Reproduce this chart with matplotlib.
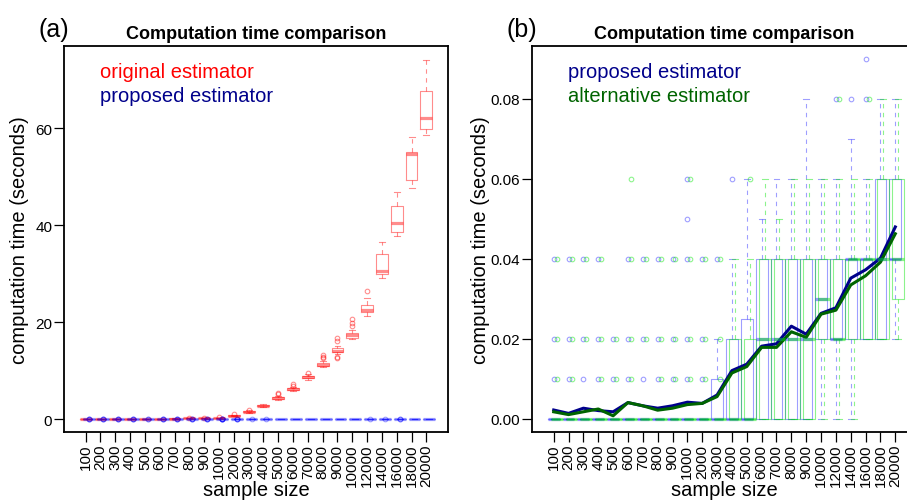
import numpy as np
import matplotlib.pyplot as plt

plt.rcParams['font.family'] = ['Liberation Sans', 'DejaVu Sans']

sample_sizes = ['100', '200', '300', '400', '500', '600', '700', '800', '900', '1000',
                '2000', '3000', '4000', '5000', '6000', '7000', '8000', '9000', '10000',
                '12000', '14000', '16000', '18000', '20000']

# (a) original estimator, seconds
orig_q1 = [0.0, 0.01, 0.02, 0.03, 0.05, 0.07, 0.09, 0.12, 0.15, 0.19, 0.66, 1.4, 2.6, 4.1,
           5.9, 8.4, 11.0, 13.8, 16.8, 22.1, 29.9, 38.5, 49.3, 59.8]
orig_med = [0.003, 0.01, 0.02, 0.04, 0.06, 0.08, 0.1, 0.13, 0.16, 0.2, 0.7, 1.5, 2.7, 4.3,
            6.1, 8.6, 11.2, 14.1, 17.3, 22.5, 30.6, 40.5, 54.6, 62.2]
orig_q3 = [0.01, 0.02, 0.03, 0.05, 0.07, 0.09, 0.11, 0.14, 0.17, 0.22, 0.76, 1.6, 2.8, 4.5,
           6.3, 8.9, 11.5, 14.6, 17.7, 23.5, 34.0, 44.0, 55.1, 67.7]
orig_lo = [0.0, 0.0, 0.01, 0.02, 0.04, 0.06, 0.08, 0.11, 0.14, 0.17, 0.6, 1.3, 2.5, 3.9,
           5.7, 8.1, 10.7, 13.5, 16.5, 21.2, 29.2, 37.7, 47.6, 58.6]
orig_hi = [0.01, 0.03, 0.04, 0.06, 0.08, 0.1, 0.13, 0.16, 0.19, 0.25, 0.85, 1.8, 3.0, 4.8,
           6.6, 9.3, 12.0, 15.1, 18.4, 24.9, 36.6, 46.9, 58.3, 74.1]
orig_fliers = [[], [], [], [], [], [], [], [0.22], [0.26], [0.35], [1.1], [1.9], [],
               [5.1, 5.4], [6.9, 7.3], [9.6], [12.5, 12.9, 13.3], [12.6, 12.9, 16.0, 16.7],
               [19.2, 19.9, 20.6], [26.5], [], [], [], []]

# proposed estimator, seconds
prop_q1 = [0, 0, 0, 0, 0, 0, 0, 0, 0, 0, 0, 0, 0, 0, 0, 0, 0, 0,
           0.02, 0.02, 0.02, 0.02, 0.02, 0.04]
prop_med = [0, 0, 0, 0, 0, 0, 0, 0, 0, 0, 0, 0, 0, 0, 0.02, 0.02, 0.02, 0.02,
            0.03, 0.02, 0.04, 0.04, 0.04, 0.04]
prop_q3 = [0, 0, 0, 0, 0, 0, 0, 0, 0, 0, 0, 0.01, 0.02, 0.025, 0.04, 0.04, 0.04, 0.04,
           0.04, 0.04, 0.04, 0.04, 0.06, 0.06]
prop_lo = [0, 0, 0, 0, 0, 0, 0, 0, 0, 0, 0, 0, 0, 0, 0, 0, 0, 0,
           0, 0, 0, 0.02, 0.02, 0.02]
prop_hi = [0, 0, 0, 0, 0, 0, 0, 0, 0, 0, 0, 0.02, 0.04, 0.06, 0.05, 0.06, 0.06, 0.08,
           0.06, 0.06, 0.07, 0.06, 0.08, 0.08]
prop_fliers = [[.01, .02, .04], [.01, .02, .04], [.01, .02, .04], [.01, .02, .04], [.01, .02],
               [.01, .02, .04], [.01, .02, .04], [.01, .02, .04], [.01, .02, .04],
               [.01, .02, .04, .05, .06], [.01, .02, .04], [.04], [.06], [], [], [], [], [],
               [], [.08], [.08], [.08, .09], [], []]
prop_mean = [0.00225, 0.0014, 0.0027, 0.0021, 0.0018, 0.0041, 0.0033, 0.0027, 0.0033, 0.0042,
             0.0039, 0.006, 0.0121, 0.0137, 0.0182, 0.0188, 0.0232, 0.0212, 0.0264, 0.0278,
             0.0352, 0.0373, 0.0402, 0.048]

# alternative estimator, seconds
alt_q1 = [0, 0, 0, 0, 0, 0, 0, 0, 0, 0, 0, 0, 0, 0, 0, 0, 0, 0,
          0.02, 0.02, 0.02, 0.02, 0.02, 0.03]
alt_med = [0, 0, 0, 0, 0, 0, 0, 0, 0, 0, 0, 0, 0, 0, 0.02, 0.02, 0.02, 0.02,
           0.03, 0.02, 0.04, 0.04, 0.04, 0.04]
alt_q3 = [0, 0, 0, 0, 0, 0, 0, 0, 0, 0, 0, 0, 0.02, 0.02, 0.04, 0.04, 0.04, 0.04,
          0.04, 0.04, 0.04, 0.04, 0.06, 0.06]
alt_lo = [0, 0, 0, 0, 0, 0, 0, 0, 0, 0, 0, 0, 0, 0, 0, 0, 0, 0,
          0, 0, 0, 0.02, 0.02, 0.02]
alt_hi = [0, 0, 0, 0, 0, 0, 0, 0, 0, 0, 0, 0, 0.04, 0.04, 0.06, 0.05, 0.06, 0.06,
          0.06, 0.06, 0.06, 0.06, 0.08, 0.08]
alt_fliers = [[.01, .02, .04], [.01, .02, .04], [.02, .04], [.01, .02, .04], [.01, .02],
              [.01, .02, .04, .06], [.02, .04], [.01, .02, .04], [.01, .02, .04],
              [.01, .02, .04, .06], [.01, .02, .04], [.01, .02, .04], [], [.06], [], [], [],
              [], [], [.08], [], [.08], [], []]
alt_mean = [0.0018, 0.0011, 0.0018, 0.0025, 0.0008, 0.0041, 0.0033, 0.0022, 0.0027, 0.0036,
            0.0039, 0.0056, 0.0115, 0.0131, 0.0179, 0.0179, 0.0218, 0.0204, 0.0262, 0.0272,
            0.0335, 0.0358, 0.0392, 0.0463]

RED = (1, 0, 0, 0.45)
BLUE = (0, 0, 1, 0.38)
GREEN = (0, 0.9, 0, 0.45)


def make_stats(q1, med, q3, lo, hi, fliers):
    return [dict(q1=a, med=b, q3=c, whislo=d, whishi=e, fliers=f)
            for a, b, c, d, e, f in zip(q1, med, q3, lo, hi, fliers)]


def draw_boxes(ax, stats, pos, col):
    ax.bxp(stats, positions=pos, widths=0.8, capwidths=0.4, manage_ticks=False,
           boxprops=dict(color=col, linewidth=0.8),
           whiskerprops=dict(color=col, linewidth=0.8, linestyle=(0, (4, 4))),
           capprops=dict(color=col, linewidth=0.8),
           medianprops=dict(color=col, linewidth=2.3, solid_capstyle='butt'),
           flierprops=dict(marker='o', markerfacecolor='none', markeredgecolor=col,
                           markersize=3.3, markeredgewidth=0.8, linestyle='none'))


def style_axes(ax, label_dx):
    x = np.arange(1, len(sample_sizes) + 1)
    ax.set_xlim(-0.46, len(sample_sizes) + 1.46)
    ax.set_xticks(x)
    ax.set_xticklabels(sample_sizes, rotation=90, fontsize=11)
    ax.tick_params(direction='out', length=7, width=0.9, labelsize=11, pad=1.5)
    for s in ax.spines.values():
        s.set_linewidth(1.3)
    ax.set_title('Computation time comparison', fontsize=13, fontweight='bold', pad=5.5)
    ax.set_xlabel('sample size', fontsize=14.5)
    ax.xaxis.label.set_va('baseline')
    ax.xaxis.set_label_coords(0.5, (433 - 496.5) / 386.3)
    ax.set_ylabel('computation time (seconds)', fontsize=14.5)
    ax.yaxis.label.set_va('baseline')
    ax.yaxis.set_label_coords(label_dx, 0.5)


fig = plt.figure(figsize=(9.07, 5.02), dpi=100)
ax1 = fig.add_axes([64 / 907, 69 / 502, 384 / 907, 386.3 / 502])
ax2 = fig.add_axes([532 / 907, 69 / 502, 385 / 907, 386.3 / 502])

pos = np.arange(1, len(sample_sizes) + 1)

# (a)
draw_boxes(ax1, make_stats(orig_q1, orig_med, orig_q3, orig_lo, orig_hi, orig_fliers), pos, RED)
draw_boxes(ax1, make_stats(prop_q1, prop_med, prop_q3, prop_lo, prop_hi, prop_fliers), pos + 0.2, BLUE)
ax1.set_ylim(-2.68, 77.05)
ax1.set_yticks([0, 20, 40, 60])
style_axes(ax1, -39 / 384)
ax1.text(0.094, 0.920, 'original estimator', color='red', fontsize=14.5,
         transform=ax1.transAxes, va='baseline')
ax1.text(0.094, 0.858, 'proposed estimator', color='#00008B', fontsize=14.5,
         transform=ax1.transAxes, va='baseline')

# (b)
draw_boxes(ax2, make_stats(prop_q1, prop_med, prop_q3, prop_lo, prop_hi, prop_fliers), pos, BLUE)
draw_boxes(ax2, make_stats(alt_q1, alt_med, alt_q3, alt_lo, alt_hi, alt_fliers), pos + 0.2, GREEN)
ax2.plot(pos, prop_mean, color='#00008B', linewidth=2.2)
ax2.plot(pos, alt_mean, color='#006400', linewidth=2.2)
ax2.set_ylim(-0.00325, 0.0933)
ax2.set_yticks([0, 0.02, 0.04, 0.06, 0.08])
ax2.set_yticklabels(['0.00', '0.02', '0.04', '0.06', '0.08'])
style_axes(ax2, -46 / 385)
ax2.text(0.0935, 0.920, 'proposed estimator', color='#00008B', fontsize=14.5,
         transform=ax2.transAxes, va='baseline')
ax2.text(0.0935, 0.858, 'alternative estimator', color='#006400', fontsize=14.5,
         transform=ax2.transAxes, va='baseline')

fig.text(38 / 907, 1 - 36.5 / 502, '(a)', fontsize=18, va='baseline')
fig.text(506 / 907, 1 - 36.5 / 502, '(b)', fontsize=18, va='baseline')

fig.savefig('out.png', dpi=100)
